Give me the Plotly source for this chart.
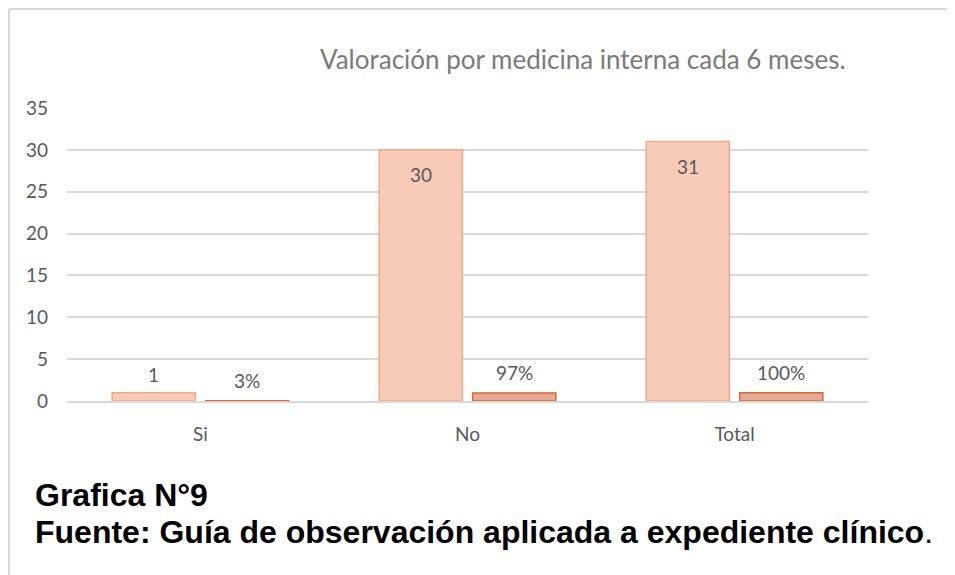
import plotly.graph_objects as go

categories = ["Si", "No", "Total"]
counts = [1, 30, 31]
count_labels = ["1", "30", "31"]
shares = [0.03, 0.97, 1.00]
share_labels = ["3%", "97%", "100%"]

GRID = "#d9d9d9"
TEXT = "#595959"
FONT = "Lato"
BARGAP = 0.3

# the page body adds an 8px offset; pixel coordinates below are screen coords
OFF = 8
FIG_W, FIG_H = 955 - OFF, 575 - OFF
L, R, T, B = 67 - OFF, 868 - OFF, 108 - OFF, 401 - OFF
W, H = R - L, B - T


def px(x):
    return (x - OFF - L) / W


def py(y):
    return (B - (y - OFF)) / H


fig = go.Figure()
fig.add_trace(go.Bar(
    x=categories, y=counts,
    marker=dict(color="#f8cbb8", line=dict(color="#f2a789", width=1.5)),
    showlegend=False, hoverinfo="x+y",
))
fig.add_trace(go.Bar(
    x=categories, y=shares,
    marker=dict(color="#e6a993", line=dict(color="#d2692f", width=1.5)),
    showlegend=False, hoverinfo="x+y",
))

# data labels, placed like Excel: inside-end for tall bars, above otherwise
shift = (1 - BARGAP) / 4
for i, (v, lab) in enumerate(zip(counts, count_labels)):
    fig.add_annotation(x=i - shift, y=v, xref="x", yref="y", text=lab,
                       showarrow=False, yshift=-25 if v > 5 else 18,
                       font=dict(color=TEXT, size=19, family=FONT))
for i, (v, lab) in enumerate(zip(shares, share_labels)):
    fig.add_annotation(x=i + shift, y=v, xref="x", yref="y", text=lab,
                       showarrow=False, yshift=20,
                       font=dict(color=TEXT, size=19, family=FONT))

# chart frame (top and left edges visible)
fig.add_shape(type="line", xref="paper", yref="paper",
              x0=px(9), x1=px(960), y0=py(9), y1=py(9),
              line=dict(color=GRID, width=2))
fig.add_shape(type="line", xref="paper", yref="paper",
              x0=px(9), x1=px(9), y0=py(9), y1=py(580),
              line=dict(color=GRID, width=2))

fig.add_annotation(
    xref="paper", yref="paper", x=px(583), y=py(59),
    text="Valoración por medicina interna cada 6 meses.",
    showarrow=False, xanchor="center", yanchor="middle",
    font=dict(color="#7a7a7a", size=26, family=FONT),
)
fig.add_annotation(
    xref="paper", yref="paper", x=px(33), y=py(495),
    text="<b>Grafica N°9</b>",
    showarrow=False, xanchor="left", yanchor="middle",
    font=dict(color="#000000", size=32, family="Liberation Sans"),
)
fig.add_annotation(
    xref="paper", yref="paper", x=px(33), y=py(532),
    text="<b>Fuente: Guía de observación aplicada a expediente clínico</b>.",
    showarrow=False, xanchor="left", yanchor="middle",
    font=dict(color="#000000", size=32, family="Liberation Sans"),
)

fig.update_layout(
    width=FIG_W, height=FIG_H,
    margin=dict(l=L, r=FIG_W - R, t=T, b=FIG_H - B, pad=0),
    paper_bgcolor="white",
    plot_bgcolor="white",
    barmode="group",
    bargap=BARGAP,
    bargroupgap=0.11,
    xaxis=dict(
        showgrid=False, zeroline=False, showline=True,
        linecolor=GRID, linewidth=1.5, ticks="",
        tickfont=dict(color=TEXT, size=19, family=FONT),
        ticklabelstandoff=15,
    ),
    yaxis=dict(
        range=[0, 35], dtick=5, showgrid=True, gridcolor=GRID, gridwidth=1.5,
        zeroline=False, showline=False, ticks="",
        tickfont=dict(color=TEXT, size=19, family=FONT),
        ticklabelstandoff=18,
    ),
)

fig.write_html("out.html")
